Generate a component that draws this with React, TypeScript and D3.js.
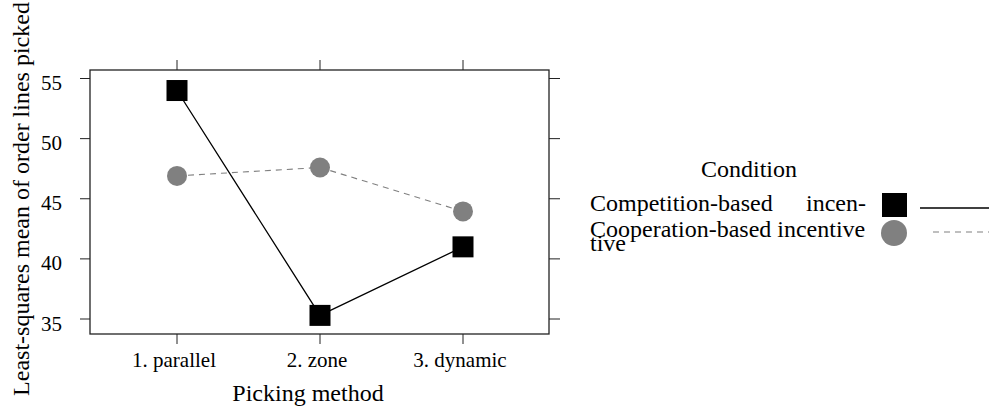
import { scaleLinear, scalePoint, line } from 'd3'

const methods = ['1. parallel', '2. zone', '3. dynamic']
const competition = [54.0, 35.3, 41.0]
const cooperation = [46.9, 47.6, 43.95]
const yTicks = [35, 40, 45, 50, 55]

const App = () => {
  const width = 989
  const height = 409
  const left = 90
  const right = 549
  const top = 70
  const bottom = 334

  const x = scalePoint().domain(methods).range([177, 463])
  const y = scaleLinear().domain([35, 55]).range([319, 78.5])

  const path = (vals: number[]) =>
    line<number>()
      .x((_, i) => x(methods[i]) as number)
      .y((d) => y(d))(vals) as string

  const font = "'Liberation Serif', 'Times New Roman', serif"

  return (
    <svg width={width} height={height} fontFamily={font} style={{ position: 'absolute', left: 0, top: 0 }}>
      <rect x={0} y={0} width={width} height={height} fill='white' />
      <rect x={left} y={top} width={right - left} height={bottom - top} fill='none' stroke='#222' strokeWidth={1.3} />

      {yTicks.map((t) => (
        <g key={t}>
          <line x1={left - 10} x2={left} y1={y(t)} y2={y(t)} stroke='#222' />
          <line x1={right} x2={right + 11} y1={y(t)} y2={y(t)} stroke='#222' />
          <text x={62} y={y(t) + 11.5} textAnchor='end' fontSize={21}>{t}</text>
        </g>
      ))}
      {methods.map((m) => (
        <g key={m}>
          <line x1={x(m)} x2={x(m)} y1={bottom} y2={bottom + 10} stroke='#222' />
          <line x1={x(m)} x2={x(m)} y1={top - 10} y2={top} stroke='#222' />
          <text x={(x(m) as number) - 3} y={367} textAnchor='middle' fontSize={21}>{m}</text>
        </g>
      ))}

      <text x={308} y={401} textAnchor='middle' fontSize={24}>Picking method</text>
      <text transform={`translate(29,199) rotate(-90)`} textAnchor='middle' fontSize={24}>
        Least-squares mean of order lines picked
      </text>

      <path d={path(cooperation)} fill='none' stroke='#808080' strokeDasharray='6,5' strokeWidth={1.1} />
      <path d={path(competition)} fill='none' stroke='#000' strokeWidth={1.3} />

      {cooperation.map((d, i) => (
        <circle key={i} cx={x(methods[i])} cy={y(d)} r={10} fill='#808080' />
      ))}
      {competition.map((d, i) => (
        <rect key={i} x={(x(methods[i]) as number) - 10.5} y={y(d) - 10.5} width={21} height={21} fill='#000' />
      ))}

      <text x={749} y={177} textAnchor='middle' fontSize={24}>Condition</text>
      <text x={590} y={211} fontSize={24}>Competition-based</text>
      <text x={866} y={211} textAnchor='end' fontSize={24}>incen-</text>
      <text x={590} y={237} fontSize={24}>Cooperation-based incentive</text>
      <text x={590} y={251} fontSize={24}>tive</text>
      <rect x={882} y={193} width={25} height={24} fill='#000' />
      <line x1={920} x2={989} y1={208} y2={208} stroke='#000' strokeWidth={1.3} />
      <circle cx={894} cy={233} r={13} fill='#808080' />
      <line x1={933} x2={989} y1={232} y2={232} stroke='#808080' strokeDasharray='6,5' strokeWidth={1.1} />
    </svg>
  )
}

export default App
